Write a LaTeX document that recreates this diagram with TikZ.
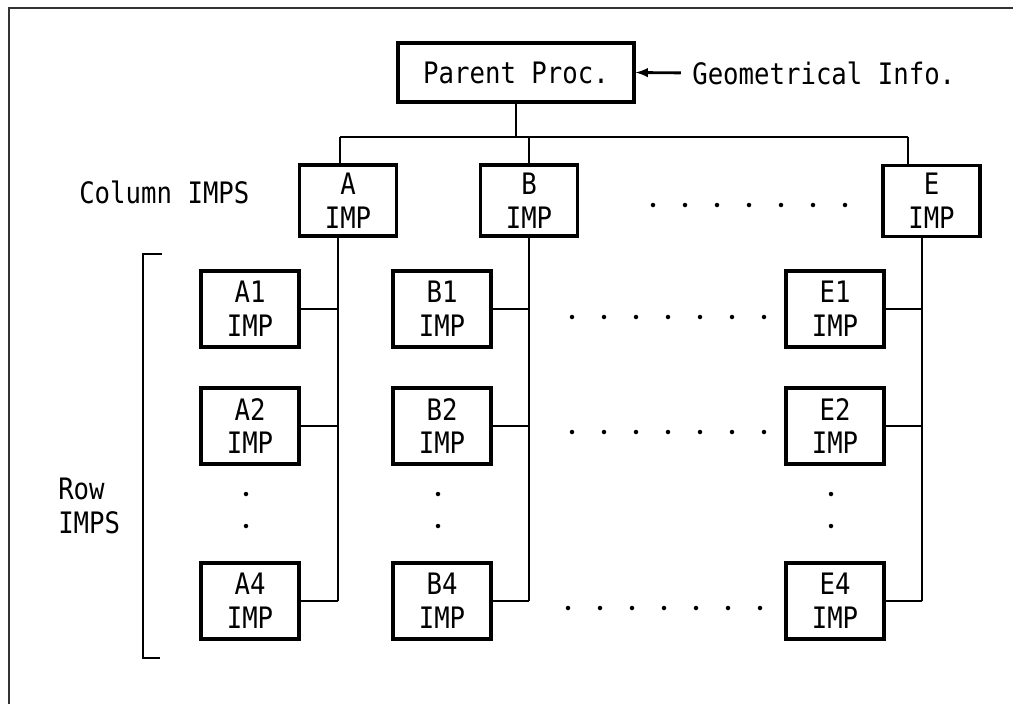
\documentclass[tikz,border=0pt]{standalone}
\usepackage{fontspec}
\newfontfamily\impfont[FakeStretch=0.87]{DejaVu Sans Mono}
\usepackage{tikz}
\usetikzlibrary{arrows}

\begin{document}
\begin{tikzpicture}[x=0.025cm,y=-0.025cm,>=latex,
		box/.style={draw,line width=2.2pt,align=center,inner sep=0pt,
			font=\impfont\fontsize{21}{24}\selectfont},
		colbox/.style={box,minimum width=2.425cm,minimum height=1.775cm},
		rowbox/.style={box,minimum width=2.45cm,minimum height=1.9cm},
		wire/.style={line width=1.8pt},
		lbl/.style={font=\impfont\fontsize{21}{24}\selectfont,inner sep=0pt}]
			\useasboundingbox (0,0) rectangle (1013,704);
			
			% scan frame
			\draw[line width=1pt,black!80] (9,704)--(9,8)--(1013,8);
			
			\node[box,minimum width=5.9cm,minimum height=1.475cm] (par) at (516,72.5) {Parent Proc.};
			\node[lbl,anchor=west] (geo) at (692,73) {Geometrical Info.};
			\draw[->,line width=2pt,shorten <=8pt] (geo.west)--(par.east);
			
			\node[colbox] (A) at (348,200.5) {A\\IMP};
			\node[colbox] (B) at (529,200.5) {B\\IMP};
			\node[colbox] (E) at (931.5,201) {E\\IMP};
			\node[lbl,anchor=west] (colimps) at (79,192) {Column IMPS};
			
			\foreach \c/\x in {A/250,B/442,E/835}{
				\node[rowbox] (\c1) at (\x,309) {\c1\\IMP};
				\node[rowbox] (\c2) at (\x,426) {\c2\\IMP};
				\node[rowbox] (\c4) at (\x,601) {\c4\\IMP};
				\fill (\x-4,494) circle (1.6pt);
				\fill (\x-4,526) circle (1.6pt);
			}
			\node[lbl,anchor=west,align=left] (rowimps) at (58,506) {Row\\IMPS};
			
			% bus from parent
			\coordinate (busl) at (340,137);
			\coordinate (busr) at (908,137);
			\draw[wire] (busl)--(busr);
			\draw[wire] (par.south)--(par.south |- busl);
			\draw[wire] (busl)--(busl |- A.north);
			\draw[wire] (B.north |- busl)--(B.north);
			\draw[wire] (busr)--(busr |- E.north);
			
			% column trunks
			\coordinate (ta) at (338,601);
			\coordinate (tb) at (529,601);
			\coordinate (te) at (922,601);
			\foreach \c/\t in {A/ta,B/tb,E/te}{
				\draw[wire] (\c.south -| \t)--(\t);
				\foreach \r in {1,2,4}
					\draw[wire] (\c\r.east)--(\c\r.east -| \t);
			}
			
			% dotted continuation
			\foreach \i in {0,...,6}{
				\fill (653+32*\i,205) circle (1.6pt);
				\fill (572+32*\i,317) circle (1.6pt);
				\fill (572+32*\i,432) circle (1.6pt);
				\fill (568+32*\i,608) circle (1.6pt);
			}
			
			\draw[line width=2pt] (162,254)--(143,254)--(143,658)--(160,658);
		\end{tikzpicture}
\end{document}
